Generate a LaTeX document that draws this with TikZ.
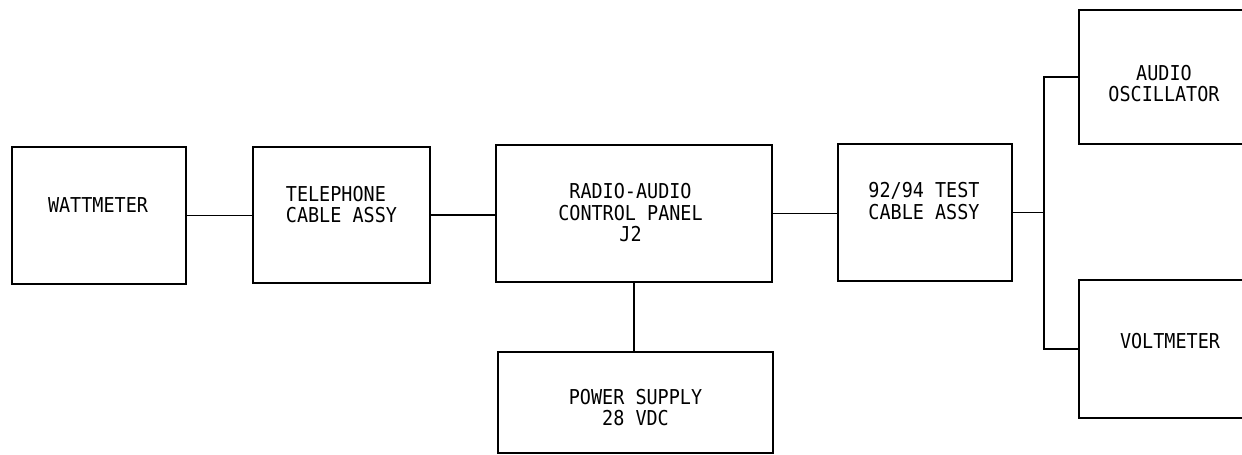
\documentclass[tikz,border=0pt]{standalone}
\usepackage{fontspec}
\newfontfamily\labelfont[FakeStretch=0.9]{DejaVu Sans Mono}
\usetikzlibrary{positioning}

\begin{document}
\begin{tikzpicture}[x=1pt, y=-1pt, line width=1.8pt]
  \tikzset{unitbox/.style={draw, rectangle, inner sep=0pt, line width=1.8pt},
           caption/.style={font=\labelfont\fontsize{20.5}{21.5}\selectfont, inner sep=0pt, align=center}}
  \clip (0,0) rectangle (1242,455);
  % units
  \node[unitbox, minimum width=174pt, minimum height=137pt] (watt) at (99,215.5) {};
  \node[unitbox, minimum width=177pt, minimum height=136pt] (tel) at (341.5,215) {};
  \node[unitbox, minimum width=276pt, minimum height=137pt] (radio) at (634,213.5) {};
  \node[unitbox, minimum width=174pt, minimum height=137pt] (test) at (925,212.5) {};
  \node[unitbox, minimum width=200pt, minimum height=134pt] (osc) at (1179,77) {};
  \node[unitbox, minimum width=200pt, minimum height=138pt] (volt) at (1179,349) {};
  \node[unitbox, minimum width=275pt, minimum height=101pt] (psu) at (635.5,402.5) {};
  % texts
  \node[caption] (wattlbl) at (98,205.5) {WATTMETER};
  \node[caption, align=left, anchor=west] (tellbl) at (285,204.5) {TELEPHONE\\CABLE ASSY};
  \node[caption] (radiolbl) at (630.5,213) {RADIO-AUDIO\\CONTROL PANEL\\J2};
  \node[caption] (testlbl) at (924,201) {92/94 TEST\\CABLE ASSY};
  \node[caption] (osclbl) at (1164,83.5) {AUDIO\\OSCILLATOR};
  \node[caption] (voltlbl) at (1170,341.5) {VOLTMETER};
  \node[caption] (psulbl) at (635.5,407.5) {POWER SUPPLY\\28 VDC};
  % wiring
  \coordinate (fork) at (1044,212);
  \draw (watt.east) -- (watt.east -| tel.west);
  \draw (tel.east) -- (tel.east -| radio.west);
  \draw (radio.east) -- (radio.east -| test.west);
  \draw (test.east) -- (test.east -| fork);
  \draw (osc.west) -| (fork) |- (volt.west);
  \draw (radio.south) -- (radio.south |- psu.north);
\end{tikzpicture}
\end{document}
